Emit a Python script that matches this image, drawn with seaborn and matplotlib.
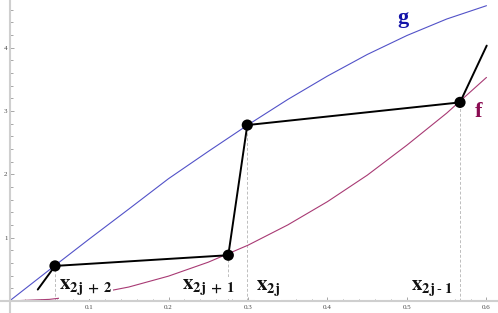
import numpy as np
import pandas as pd
import matplotlib
matplotlib.use("Agg")
import matplotlib.pyplot as plt
from matplotlib.ticker import FixedLocator, MultipleLocator
import seaborn as sns

# ---- data ----
x_grid = [0.0, 0.05, 0.10, 0.15, 0.20, 0.25, 0.30, 0.35, 0.40, 0.45, 0.50, 0.55, 0.60]
g_vals = [0.0, 0.49, 0.975, 1.45, 1.93, 2.36, 2.78, 3.18, 3.55, 3.89, 4.19, 4.45, 4.66]
f_vals = [0.0, 0.025, 0.098, 0.22, 0.392, 0.612, 0.88, 1.20, 1.568, 1.985, 2.46, 2.965, 3.528]

path_x = [0.0355, 0.0572, 0.2752, 0.2991, 0.5667, 0.6003]
path_y = [0.18, 0.553, 0.722, 2.776, 3.134, 4.03]
dot_x = [0.0572, 0.2752, 0.2991, 0.5667]
dot_y = [0.553, 0.722, 2.776, 3.134]

point_labels = [r"$\mathbf{x_{2j\;+\;2}}$", r"$\mathbf{x_{2j\;+\;1}}$",
                r"$\mathbf{x_{2j}}$", r"$\mathbf{x_{2j\;\text{-}\;1}}$"]
xtick_vals = [0.1, 0.2, 0.3, 0.4, 0.5, 0.6]
xtick_text = ["0.1", "0.2", "0.3", "0.4", "0.5", "0.6"]
ytick_vals = [1, 2, 3, 4]
ytick_text = ["1", "2", "3", "4"]

curves = pd.DataFrame({"x": x_grid, "g": g_vals, "f": f_vals})
path = pd.DataFrame({"x": path_x, "y": path_y})
dots = pd.DataFrame({"x": dot_x, "y": dot_y})

sns.set_theme(style="white")
plt.rcParams["mathtext.fontset"] = "stix"

fig = plt.figure(figsize=(4.98, 3.13), dpi=100)
ax = fig.add_axes([0, 0, 1, 1])

# dashed drop lines
for xv, yv in zip(dot_x, dot_y):
    ax.plot([xv, xv], [0, yv], color="#bdbdbd", lw=0.7, ls=(0, (3, 2)), zorder=1)

sns.lineplot(data=curves, x="x", y="g", ax=ax, color="#5252c8", lw=0.8, zorder=2)
sns.lineplot(data=curves, x="x", y="f", ax=ax, color="#a83a74", lw=0.8, zorder=2)
sns.lineplot(data=path, x="x", y="y", ax=ax, sort=False, color="black", lw=1.4, zorder=3)
sns.scatterplot(data=dots, x="x", y="y", ax=ax, color="black", s=65, edgecolor="none", zorder=4)

# labels
lab_pos = [(0.0625, 0.17), (0.217, 0.17), (0.310, 0.155), (0.505, 0.155)]
for txt, (lx, ly) in zip(point_labels, lab_pos):
    ax.text(lx, ly, txt, fontsize=15, ha="left", va="baseline", color="#111111", zorder=5,
            bbox=dict(facecolor="white", edgecolor="none", pad=0.5))

ax.text(0.495, 4.47, "g", fontsize=16, fontweight="bold", family="Liberation Serif",
        color="#1414a8", ha="center", va="center", zorder=5)
ax.text(0.5906, 2.98, "f", fontsize=16, fontweight="bold", family="Liberation Serif",
        color="#8a0c52", ha="center", va="center", zorder=5)

ax.set_xlim(-0.012, 0.6145)
ax.set_ylim(-0.19, 4.75)
ax.set_xlabel("")
ax.set_ylabel("")

for s in ["top", "right"]:
    ax.spines[s].set_visible(False)
for s in ["left", "bottom"]:
    ax.spines[s].set_position(("data", 0))
    ax.spines[s].set_color("#cfcfcf")
    ax.spines[s].set_linewidth(1.5)

ax.xaxis.set_major_locator(FixedLocator(xtick_vals))
ax.set_xticklabels(xtick_text)
ax.xaxis.set_minor_locator(MultipleLocator(0.02))
ax.yaxis.set_major_locator(FixedLocator(ytick_vals))
ax.set_yticklabels(ytick_text)
ax.yaxis.set_minor_locator(MultipleLocator(0.2))

ax.tick_params(which="both", direction="in", color="#999999", width=0.6)
ax.tick_params(which="major", length=3)
ax.tick_params(which="minor", length=1.8)
ax.tick_params(axis="x", which="both", bottom=True, pad=3, labelsize=5, labelcolor="#444444")
ax.tick_params(axis="y", which="both", left=True, pad=1.5, labelsize=5, labelcolor="#444444")
for lbl in ax.get_xticklabels() + ax.get_yticklabels():
    lbl.set_family("Liberation Serif")

ax.set_facecolor("white")
fig.savefig("out.png", dpi=100, facecolor="white")
